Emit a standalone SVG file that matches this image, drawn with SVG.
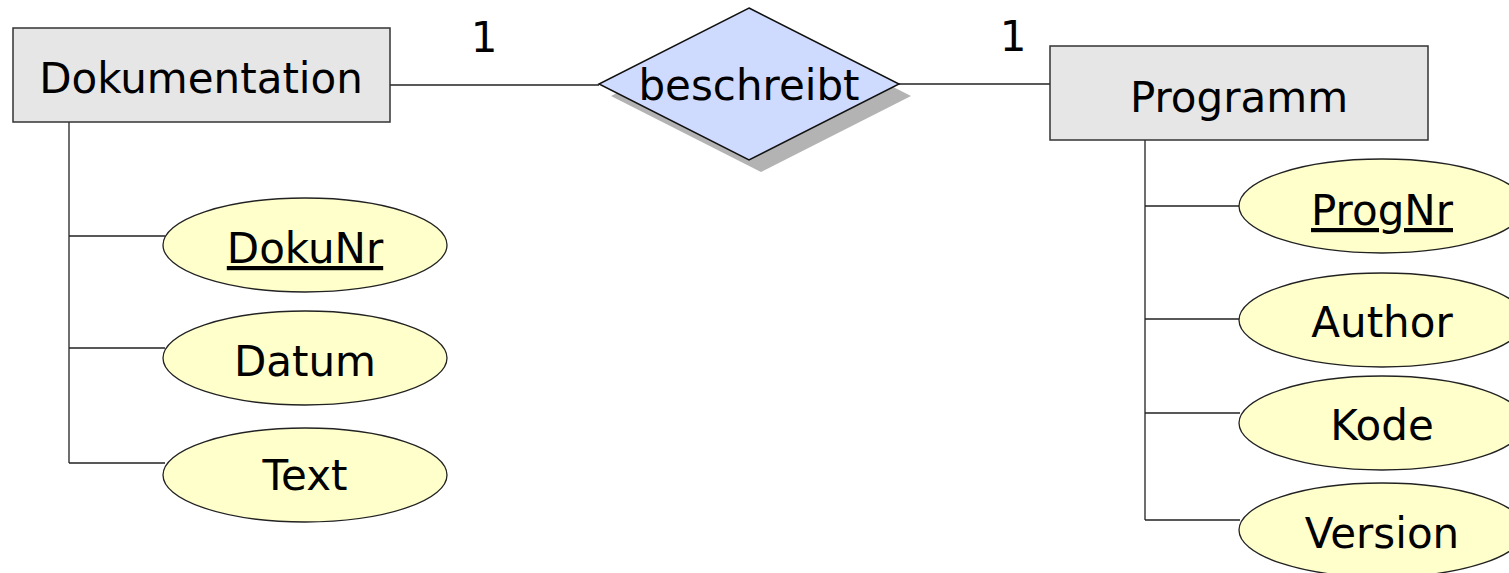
<svg xmlns="http://www.w3.org/2000/svg" width="1509" height="573" viewBox="0 0 1509 573">
  <style>
    .entity { fill: #e6e6e6; stroke: #333333; stroke-width: 1.5; }
    .attr { fill: #ffffcc; stroke: #222222; stroke-width: 1.3; }
    .rel { fill: #cfdaff; stroke: #111111; stroke-width: 1.5; }
    .shadow { fill: #b3b3b3; }
    .conn { fill: none; stroke: #222222; stroke-width: 1.3; }
    .lbl { font-family: "DejaVu Sans", "Liberation Sans", sans-serif; font-size: 42px; fill: #000000; text-anchor: middle; }
    .key { text-decoration: underline; }
  </style>

  <!-- connectors -->
  <g id="connectors">
    <path class="conn" d="M390 85 H599"/>
    <path class="conn" d="M899 84 H1050"/>
    <path class="conn" d="M69 122 V463 M69 236 H165 M69 348 H165 M69 463 H165"/>
    <path class="conn" d="M1145 140 V520 M1145 206 H1240 M1145 319 H1240 M1145 413 H1240 M1145 520 H1240"/>
  </g>

  <!-- cardinalities -->
  <text class="lbl" x="484" y="52">1</text>
  <text class="lbl" x="1013" y="51">1</text>

  <g id="dokumentation">
    <rect class="entity" x="13" y="28" width="377" height="94"/>
    <text class="lbl" x="201" y="93">Dokumentation</text>
  </g>

  <g id="beschreibt">
    <polygon class="shadow" points="761,20 911,96 761,172 611,96"/>
    <polygon class="rel" points="749,8 899,84 749,160 599,84"/>
    <text class="lbl" x="749" y="100">beschreibt</text>
  </g>

  <g id="programm">
    <rect class="entity" x="1050" y="46" width="378" height="94"/>
    <text class="lbl" x="1239" y="112">Programm</text>
  </g>

  <g id="dokunr">
    <ellipse class="attr" cx="305" cy="245" rx="142" ry="47"/>
    <text class="lbl key" x="305" y="263">DokuNr</text>
  </g>
  <g id="datum">
    <ellipse class="attr" cx="305" cy="358" rx="142" ry="47"/>
    <text class="lbl" x="305" y="376">Datum</text>
  </g>
  <g id="text">
    <ellipse class="attr" cx="305" cy="475" rx="142" ry="47"/>
    <text class="lbl" x="305" y="490">Text</text>
  </g>

  <g id="prognr">
    <ellipse class="attr" cx="1382" cy="206" rx="143" ry="47"/>
    <text class="lbl key" x="1382" y="225">ProgNr</text>
  </g>
  <g id="author">
    <ellipse class="attr" cx="1382" cy="320" rx="143" ry="47"/>
    <text class="lbl" x="1382" y="337">Author</text>
  </g>
  <g id="kode">
    <ellipse class="attr" cx="1382" cy="423" rx="143" ry="47"/>
    <text class="lbl" x="1382" y="440">Kode</text>
  </g>
  <g id="version">
    <ellipse class="attr" cx="1382" cy="530" rx="143" ry="47"/>
    <text class="lbl" x="1382" y="548">Version</text>
  </g>
</svg>
